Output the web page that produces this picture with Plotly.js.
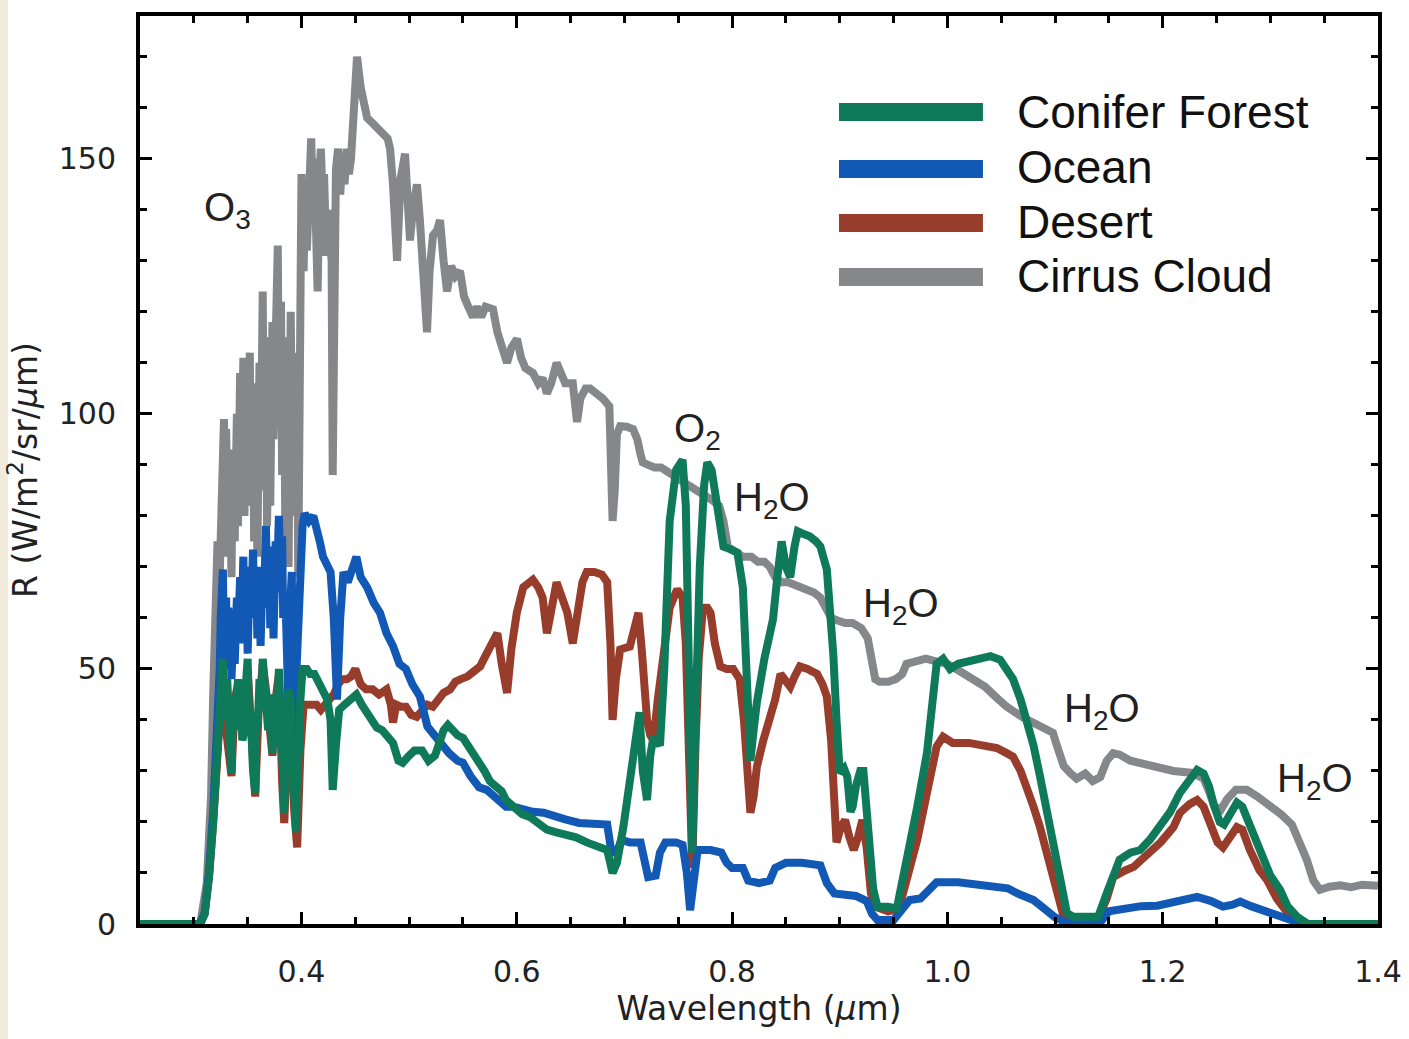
<!DOCTYPE html>
<html>
<head>
<meta charset="utf-8">
<script src="https://cdn.plot.ly/plotly-3.0.1.min.js"></script>
<style>
html,body{margin:0;padding:0;background:#fff;}
#chart{width:1409px;height:1039px;}
</style>
</head>
<body>
<div id="chart"></div>
<script>
// ---------- DATA (wavelength in µm, radiance in W/m²/sr/µm) ----------
const cirrusWl = [0.25,0.306,0.312,0.316,0.318,0.320,0.322,0.324,0.326,0.328,0.329,0.330,0.332,0.333,0.335,0.336,0.338,0.340,0.341,0.343,0.344,0.346,0.347,0.349,0.350,0.352,0.353,0.355,0.356,0.358,0.359,0.361,0.362,0.364,0.365,0.367,0.368,0.370,0.371,0.373,0.374,0.376,0.378,0.379,0.381,0.382,0.384,0.385,0.387,0.388,0.390,0.391,0.393,0.394,0.396,0.397,0.399,0.400,0.402,0.403,0.405,0.407,0.409,0.411,0.412,0.414,0.415,0.417,0.418,0.420,0.421,0.423,0.425,0.426,0.428,0.429,0.430,0.432,0.434,0.436,0.438,0.440,0.442,0.444,0.446,0.448,0.4516,0.455,0.458,0.461,0.466,0.471,0.476,0.480,0.4823,0.485,0.4888,0.492,0.4962,0.499,0.5008,0.504,0.5073,0.510,0.513,0.5166,0.519,0.5222,0.526,0.5287,0.532,0.5352,0.539,0.543,0.5473,0.551,0.555,0.5594,0.563,0.567,0.571,0.5779,0.582,0.586,0.5909,0.595,0.6002,0.604,0.608,0.6151,0.620,0.624,0.628,0.632,0.637,0.641,0.645,0.652,0.654,0.656,0.659,0.664,0.668,0.674,0.680,0.686,0.688,0.689,0.691,0.693,0.696,0.702,0.708,0.712,0.715,0.717,0.722,0.728,0.734,0.739,0.745,0.752,0.760,0.768,0.775,0.782,0.788,0.792,0.796,0.802,0.810,0.818,0.824,0.830,0.835,0.840,0.846,0.852,0.858,0.864,0.870,0.876,0.882,0.887,0.892,0.898,0.905,0.912,0.920,0.926,0.930,0.933,0.937,0.945,0.952,0.958,0.962,0.970,0.980,0.993,1.000,1.012,1.024,1.035,1.045,1.055,1.070,1.085,1.098,1.102,1.108,1.114,1.120,1.128,1.135,1.142,1.148,1.154,1.160,1.170,1.180,1.195,1.210,1.228,1.238,1.243,1.248,1.254,1.260,1.268,1.278,1.288,1.298,1.310,1.320,1.328,1.334,1.340,1.346,1.355,1.365,1.375,1.385,1.400];
const cirrusR = [0,0,8,25,45,60,75,68,90,99,80,97,72,93,68,88,75,100,78,108,85,111,80,103,88,112,82,106,75,96,72,110,85,124,90,115,78,105,82,118,95,128,133,100,122,88,110,75,115,70,120,98,112,80,105,68,140,147,128,140,132,150,154,140,150,132,124,148,152,140,147,131,140,135,130,88,130,148,152,143,150,145,152,147,150,160,170,164,160,158,157,156,155,154,152,145,130,146,151,142,134,141,145,138,130,116,128,135,136,138,130,124,129,127,128,123,121,119,121,119,121,120.5,116,113,110,113,114.7,111,109,108,106,107,104,106,110,108,106,106,103,98.4,103,105,105,104,103,101.5,90,79,85,96,97.6,97.5,97,95,92,90.5,90,89.5,89.5,89,88,87,86,85,84,83,82,79,74,73,72,72,71,71,70,68,67,67,66.5,66,65.5,65,64,62,60,59.5,59,59,58,56,52,48,47.5,47.5,48,49,51,51.5,52,51.3,51,49.5,48,46.5,44.5,42.6,40.5,39,37.5,34.8,31,29.6,28.5,29.5,28,28.8,32,33.5,33.2,32,31.5,30.5,30,29.6,28.5,26,23,22.4,24.5,26.3,26.3,25,23.5,21.5,19.5,16,12.5,8.5,6.7,7.3,7.6,7.2,7.7,7.5];

const oceanWl = [0.25,0.305,0.310,0.314,0.318,0.322,0.324,0.325,0.327,0.328,0.330,0.331,0.332,0.334,0.335,0.337,0.338,0.340,0.341,0.343,0.344,0.346,0.347,0.349,0.350,0.352,0.353,0.355,0.356,0.358,0.359,0.361,0.362,0.364,0.365,0.367,0.368,0.370,0.371,0.373,0.374,0.376,0.377,0.379,0.380,0.382,0.383,0.385,0.386,0.388,0.389,0.391,0.392,0.394,0.395,0.397,0.399,0.401,0.403,0.407,0.411,0.414,0.417,0.420,0.424,0.427,0.430,0.433,0.436,0.439,0.443,0.447,0.451,0.455,0.461,0.467,0.473,0.479,0.485,0.491,0.497,0.503,0.510,0.517,0.523,0.529,0.537,0.545,0.550,0.557,0.565,0.572,0.580,0.590,0.597,0.605,0.615,0.625,0.635,0.645,0.658,0.670,0.684,0.688,0.693,0.697,0.705,0.715,0.719,0.722,0.729,0.733,0.738,0.748,0.754,0.758,0.761,0.764,0.768,0.780,0.790,0.795,0.800,0.810,0.815,0.825,0.835,0.840,0.850,0.865,0.882,0.888,0.895,0.915,0.925,0.930,0.935,0.950,0.958,0.965,0.975,0.984,0.990,1.010,1.030,1.045,1.056,1.065,1.080,1.090,1.100,1.110,1.142,1.150,1.165,1.180,1.195,1.210,1.222,1.232,1.245,1.256,1.265,1.272,1.282,1.295,1.305,1.315,1.322,1.330,1.400];
const oceanR = [0,0,2,10,22,38,50,60,69.5,55,64,50,62,55,48,60,51,64,56,68,55,72,58,66,53,70,60,73.4,62,70,56,66,54.5,70,62,78,66,74,58,70,56,75,65,80,72,76,60,65,50,41.5,60,69,50,35,48,60,74,78,80.5,79,80,78,75,72,70,69,60,44,60,69,67,69,72,68,66,63,61,57,54.5,51,50,47,44.6,38.7,37,35.5,33.5,32,31.6,29,26.8,26.3,25,23,23,22.5,22,21.8,21,20.5,19.8,19.5,19.5,14,14,16.5,16,16,11,9.2,9.5,14,16,16,15.5,10,2.7,8,14.5,14.5,14,12,11,11,8.5,8,8.5,11,12,12,11.5,8,6,5.5,4.5,2,0.8,0.8,3,4.7,5,7,8.2,8.2,7.8,7.5,7,6,4.7,3,1.3,0.3,0.3,2.5,3.2,3.5,3.6,4.3,5,5.3,4.5,3.4,3.8,4.4,3.5,2.5,1.6,0.8,0.2,0,0];

const desertWl = [0.25,0.306,0.310,0.314,0.318,0.322,0.325,0.327,0.330,0.333,0.335,0.338,0.341,0.344,0.347,0.350,0.353,0.357,0.360,0.364,0.367,0.370,0.373,0.376,0.379,0.382,0.384,0.387,0.390,0.393,0.396,0.399,0.402,0.406,0.410,0.414,0.418,0.422,0.426,0.430,0.434,0.438,0.442,0.446,0.450,0.455,0.460,0.466,0.472,0.479,0.483,0.485,0.488,0.492,0.497,0.502,0.507,0.512,0.517,0.522,0.527,0.532,0.538,0.543,0.548,0.554,0.560,0.566,0.572,0.578,0.582,0.586,0.591,0.595,0.600,0.606,0.615,0.620,0.624,0.628,0.632,0.637,0.642,0.647,0.652,0.657,0.661,0.665,0.672,0.679,0.684,0.687,0.689,0.692,0.696,0.705,0.710,0.713,0.716,0.719,0.721,0.724,0.727,0.731,0.736,0.742,0.749,0.754,0.757,0.760,0.763,0.766,0.769,0.773,0.777,0.780,0.784,0.789,0.795,0.801,0.807,0.811,0.814,0.817,0.820,0.823,0.829,0.835,0.840,0.845,0.850,0.854,0.858,0.863,0.870,0.879,0.884,0.888,0.892,0.895,0.897,0.901,0.905,0.909,0.913,0.917,0.921,0.925,0.929,0.933,0.945,0.955,0.962,0.972,0.981,0.990,0.996,1.005,1.020,1.035,1.046,1.055,1.061,1.068,1.074,1.080,1.086,1.092,1.098,1.107,1.117,1.140,1.148,1.154,1.165,1.173,1.185,1.198,1.210,1.216,1.225,1.232,1.238,1.244,1.251,1.256,1.262,1.269,1.274,1.281,1.290,1.297,1.306,1.316,1.325,1.330,1.400];
const desertR = [0,0,2,9,20,33,42,50,38,30,29,44,47,40,37,50,40,25,41,51,46,39,33,44,49,28,19.8,37,43,23,15,34,43,43,43,43,42,43,44,45,47,48,48,48.5,50,47,46,46,45,46,43,39.5,43,42.6,42.6,41,40.6,42,43,42.6,44,45.3,46,47.5,48,48.5,49.5,50.5,53,56,57,51,45.3,54,61,66,67.5,66,64,57,62,67,64,61,55,62,67,69,69,68.5,67,55,40,48,53.8,54.4,58,61,54,46,40,37,36,44,53,62,65.6,64,55,25,11,35,52,62,62,61,55,50.5,50,50,48,40,28,21.8,25,30.8,36,40,44,49,47.5,46.5,48.5,50.5,50,49,47,44.6,36,25,16,19,20.4,17,14.5,17,20.4,15,6,3.4,2.5,3,8.6,16.5,25.7,34.8,36.7,35.5,35.5,35,34.5,33.5,32.8,30,27,23,19,14,8.6,2.2,1.2,1.2,5,9.2,10.5,11.2,13.5,16,19,21.8,23.5,24.3,23,19.8,16,15,17,19,18.5,14.5,10.5,8.6,5,2.2,0.5,0,0];

const forestWl = [0.25,0.306,0.310,0.314,0.318,0.322,0.324,0.325,0.327,0.328,0.330,0.331,0.333,0.335,0.336,0.338,0.339,0.341,0.342,0.344,0.345,0.347,0.348,0.350,0.351,0.353,0.355,0.357,0.358,0.360,0.361,0.363,0.364,0.366,0.367,0.369,0.370,0.372,0.373,0.375,0.376,0.378,0.379,0.381,0.382,0.384,0.385,0.387,0.388,0.390,0.391,0.393,0.395,0.396,0.398,0.399,0.401,0.405,0.408,0.412,0.416,0.420,0.424,0.427,0.429,0.432,0.435,0.440,0.446,0.451,0.456,0.461,0.466,0.470,0.475,0.480,0.485,0.490,0.494,0.500,0.505,0.512,0.518,0.524,0.528,0.532,0.536,0.540,0.545,0.550,0.555,0.560,0.565,0.570,0.575,0.580,0.586,0.590,0.596,0.600,0.605,0.612,0.620,0.628,0.636,0.645,0.655,0.665,0.675,0.684,0.689,0.693,0.699,0.705,0.710,0.714,0.717,0.721,0.724,0.727,0.733,0.737,0.742,0.748,0.754,0.757,0.759,0.761,0.763,0.766,0.770,0.774,0.777,0.781,0.786,0.792,0.798,0.805,0.810,0.813,0.817,0.820,0.823,0.830,0.838,0.842,0.846,0.850,0.854,0.858,0.861,0.866,0.872,0.878,0.882,0.888,0.891,0.894,0.897,0.900,0.904,0.907,0.910,0.912,0.915,0.919,0.922,0.925,0.928,0.931,0.935,0.945,0.953,0.9625,0.972,0.981,0.990,0.996,1.0025,1.010,1.024,1.040,1.049,1.055,1.061,1.068,1.074,1.080,1.086,1.092,1.098,1.104,1.111,1.117,1.140,1.148,1.155,1.160,1.170,1.179,1.188,1.197,1.207,1.216,1.225,1.232,1.238,1.243,1.248,1.253,1.257,1.262,1.269,1.274,1.280,1.285,1.293,1.300,1.309,1.316,1.325,1.330,1.335,1.400];
const forestR = [0,0,2,9,20,35,42,47,52,44,40,48,32,29.6,40,45,38,48,42,42,36,38,46,52,42,40,30,25.7,38,42,48,44,52,46,47,38,40,45,33.5,40,45,42,50,40,30,21.8,34,38,46,44,35,25,18,30,35,44,50,50,49,49,47,46,44,40,26.3,35,42,43,44,45,43,41.5,40,38.5,38,36.5,35.5,32,31.6,33,34,34,32,33,36,38,39,38,37,36.5,35,33.5,32,30,28,27,26,24.3,23,22.5,21.5,21,19.5,18.5,18,17.5,17,16,15,14.5,10,12,19,28,36,41.5,30,24.3,33,36.7,35,50,79,89,91,82,60,30,14,40,70,86,90.5,89,82,74,73.5,72.8,66,48,32,38,43.4,52,59.7,68,75,70,68,74,77,76.5,76,75,74,69.5,62,53,40,29.6,30.5,28.9,22,23,27,30,30,22,13,7,3.4,3.4,3,12.6,23,33.5,51,52,50,51,51.8,52.5,51.8,50,48,44,40,35,29,22.5,16,9,2.2,1.4,1.4,6,9.5,12.6,14,14.5,16.5,19,22,25.7,28.5,30.2,29.5,27,23,20,19.5,21.5,23.8,23,20,17,12.6,9.5,6.7,3.5,1.4,0.5,0,0];

const seriesNames = ['Conifer Forest','Ocean','Desert','Cirrus Cloud'];
const xTickVals = [0.4,0.6,0.8,1.0,1.2,1.4];
const xTickText = ['0.4','0.6','0.8','1.0','1.2','1.4'];
const yTickVals = [0,50,100,150];
const yTickText = ['0','50','100','150'];
const bandLabels = ['O<sub>3</sub>','O<sub>2</sub>','H<sub>2</sub>O','H<sub>2</sub>O','H<sub>2</sub>O','H<sub>2</sub>O'];
const bandLabelWl = [0.3085,0.7452,0.8009,0.9207,1.1075,1.3048];
const bandLabelR = [145.0,101.8,88.2,67.4,46.8,33.1];

// ---------- STYLE ----------
const colors = {forest:'#0f7a5a', ocean:'#1259b5', desert:'#983c2b', cirrus:'#86878a'};
const LW = 8;

const traces = [
  {x:cirrusWl, y:cirrusR, name:seriesNames[3], mode:'lines', line:{color:colors.cirrus, width:LW}},
  {x:desertWl, y:desertR, name:seriesNames[2], mode:'lines', line:{color:colors.desert, width:LW}},
  {x:oceanWl, y:oceanR, name:seriesNames[1], mode:'lines', line:{color:colors.ocean, width:LW}},
  {x:forestWl, y:forestR, name:seriesNames[0], mode:'lines', line:{color:colors.forest, width:LW}}
];

const tickFont = {family:'DejaVu Sans', size:30, color:'#222'};
const annFont = {family:'Liberation Sans, Arial, sans-serif', size:40, color:'#222'};
const legFont = {family:'Liberation Sans, Arial, sans-serif', size:46, color:'#111'};

// legend (drawn manually: swatches + labels)
const legendColors = [colors.forest, colors.ocean, colors.desert, colors.cirrus];
const legendY = [0.8943, 0.8315, 0.7720, 0.7126];
const legendTextY = [0.8948, 0.8337, 0.7735, 0.7137];

const shapes = [
  {type:'rect', xref:'paper', yref:'paper', x0:-0.11309, x1:-0.10662, y0:-0.12665, y1:1.01762,
   fillcolor:'#f3ebdb', line:{width:0}, layer:'below'}
];
legendColors.forEach((c,i)=>{
  shapes.push({type:'line', xref:'paper', yref:'paper', x0:0.5646, x1:0.6809, y0:legendY[i], y1:legendY[i],
    line:{color:c, width:18}});
});

const annotations = [];
seriesNames.forEach((n,i)=>{
  annotations.push({xref:'paper', yref:'paper', x:0.7076, y:legendTextY[i], text:n, showarrow:false,
    xanchor:'left', yanchor:'middle', font:legFont, borderpad:0});
});
bandLabels.forEach((t,i)=>{
  annotations.push({xref:'x', yref:'y', x:bandLabelWl[i], y:bandLabelR[i], text:t, showarrow:false,
    xanchor:'left', yanchor:'top', font:annFont, borderpad:0});
});

const axisCommon = {
  ticks:'inside', ticklen:12, tickwidth:3, tickcolor:'#000',
  showline:true, linewidth:4, linecolor:'#000', mirror:'ticks',
  showgrid:false, zeroline:false, tickfont:tickFont
};

const layout = {
  width:1409, height:1039,
  margin:{l:140, r:31, t:16, b:115, pad:0},
  paper_bgcolor:'#ffffff', plot_bgcolor:'#ffffff',
  showlegend:false,
  font:{family:'DejaVu Sans', color:'#222'},
  xaxis:Object.assign({}, axisCommon, {
    range:[0.25,1.4], tickmode:'array', tickvals:xTickVals, ticktext:xTickText,
    ticklabelstandoff:18,
    minor:{dtick:0.05, tick0:0, ticks:'inside', ticklen:7, tickwidth:3, tickcolor:'#000', showgrid:false},
    title:{text:'Wavelength (<i>µ</i>m)', font:{family:'DejaVu Sans', size:33, color:'#222'}, standoff:4}
  }),
  yaxis:Object.assign({}, axisCommon, {
    range:[0,178], tickmode:'array', tickvals:yTickVals, ticktext:yTickText,
    ticklabelstandoff:14,
    minor:{dtick:10, tick0:0, ticks:'inside', ticklen:7, tickwidth:3, tickcolor:'#000', showgrid:false},
    title:{text:'R (W/m<sup>2</sup>/sr/<i>µ</i>m)', font:{family:'DejaVu Sans', size:33, color:'#222'}, standoff:12}
  }),
  shapes:shapes,
  annotations:annotations
};

Plotly.newPlot('chart', traces, layout, {displayModeBar:false, staticPlot:true});
</script>
</body>
</html>
